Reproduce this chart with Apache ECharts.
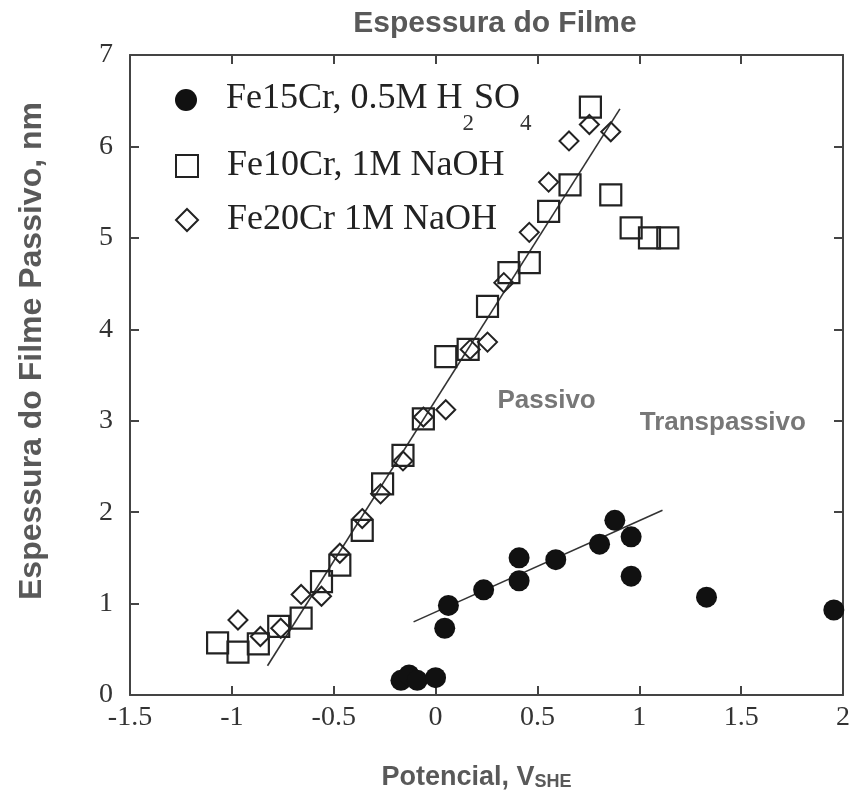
<!DOCTYPE html>
<html>
<head>
<meta charset="utf-8">
<script src="https://cdn.jsdelivr.net/npm/echarts@6/dist/echarts.min.js"></script>
<style>html,body{margin:0;padding:0;background:#fff}#c{width:855px;height:796px}</style>
</head>
<body>
<div id="c"></div>
<script>
// Fe15Cr, 0.5M H2SO4 (filled circles)
const h2so4X = [-0.17, -0.13, -0.09, 0.00, 0.045, 0.063, 0.236, 0.41, 0.41, 0.59, 0.805, 0.88, 0.96, 0.96, 1.33, 1.955];
const h2so4Y = [0.16, 0.22, 0.16, 0.19, 0.73, 0.98, 1.15, 1.25, 1.50, 1.48, 1.65, 1.91, 1.73, 1.30, 1.07, 0.93];
// Fe10Cr, 1M NaOH (open squares)
const fe10X = [-1.07, -0.97, -0.87, -0.77, -0.66, -0.56, -0.47, -0.36, -0.26, -0.16, -0.06, 0.05, 0.16, 0.255, 0.36, 0.46, 0.555, 0.66, 0.76, 0.86, 0.96, 1.05, 1.14];
const fe10Y = [0.57, 0.47, 0.56, 0.75, 0.84, 1.24, 1.42, 1.80, 2.31, 2.62, 3.02, 3.70, 3.78, 4.25, 4.62, 4.73, 5.29, 5.58, 6.43, 5.47, 5.11, 5.00, 5.00];
// Fe20Cr 1M NaOH (open diamonds)
const fe20X = [-0.97, -0.86, -0.76, -0.66, -0.56, -0.47, -0.36, -0.27, -0.16, -0.06, 0.05, 0.17, 0.255, 0.335, 0.46, 0.555, 0.655, 0.755, 0.86];
const fe20Y = [0.82, 0.64, 0.73, 1.10, 1.08, 1.55, 1.93, 2.20, 2.56, 3.04, 3.12, 3.78, 3.86, 4.51, 5.06, 5.61, 6.06, 6.24, 6.16];
// fit lines (end points)
const fitNaOHX = [-0.825, 0.905];
const fitNaOHY = [0.32, 6.41];
const fitAcidX = [-0.108, 1.114];
const fitAcidY = [0.80, 2.02];
// annotations
const noteText = ['Passivo', 'Transpassivo'];
const noteX = [0.545, 1.41];
const noteY = [3.22, 2.98];
// axes
const xMin = -1.5, xMax = 2, xStep = 0.5;
const yMin = 0, yMax = 7, yStep = 1;
const seriesNames = ['Fe15Cr, 0.5M H2SO4', 'Fe10Cr, 1M NaOH', 'Fe20Cr 1M NaOH'];

const zip = (a, b) => a.map((v, i) => [v, b[i]]);
const serif = 'Liberation Serif';
const sans = 'Liberation Sans';
const ink = '#111';
const grey = '#595959';

const chart = echarts.init(document.getElementById('c'), null, {renderer: 'canvas'});

const legendBase = {
  orient: 'vertical',
  itemWidth: 22,
  itemHeight: 22,
  left: 170,
  textStyle: {fontFamily: serif, fontSize: 36, color: '#222', padding: [0, 0, 0, 24],
    rich: {
      t: {fontFamily: serif, fontSize: 36, color: '#222', verticalAlign: 'top', lineHeight: 38},
      s: {fontFamily: serif, fontSize: 23, color: '#333', verticalAlign: 'top', lineHeight: 38, padding: [31, 0, 0, 0]}
    }
  },
  formatter: function (name) {
    if (name === seriesNames[0]) return '{t|Fe15Cr, 0.5M H}{s|2}{t|SO}{s|4}';
    return name;
  }
};

const axisCommonX = {
  type: 'value', min: xMin, max: xMax, interval: xStep,
  axisLine: {show: true, onZero: false, lineStyle: {color: '#444', width: 2}},
  axisTick: {show: true, inside: true, length: 9, lineStyle: {color: '#444', width: 2}},
  splitLine: {show: false}
};
const axisCommonY = {
  type: 'value', min: yMin, max: yMax, interval: yStep,
  axisLine: {show: true, onZero: false, lineStyle: {color: '#444', width: 2}},
  axisTick: {show: true, inside: true, length: 9, lineStyle: {color: '#444', width: 2}},
  splitLine: {show: false}
};

chart.setOption({
  animation: false,
  backgroundColor: '#fff',
  title: {
    text: 'Espessura do Filme',
    left: 490, top: 4, textAlign: 'center',
    textStyle: {fontFamily: sans, fontWeight: 'bold', fontSize: 30, color: grey}
  },
  grid: {left: 130, right: 12, top: 55, bottom: 99},
  legend: [
    Object.assign({}, legendBase, {top: 76, data: [seriesNames[0]]}),
    Object.assign({}, legendBase, {top: 143, data: [seriesNames[1]]}),
    Object.assign({}, legendBase, {top: 197, data: [seriesNames[2]]})
  ],
  xAxis: [
    Object.assign({}, axisCommonX, {
      position: 'bottom',
      axisLabel: {fontFamily: serif, fontSize: 28, color: '#333', margin: 9},
      name: '{a|Potencial, V}{b|SHE}',
      nameLocation: 'middle', nameGap: 64,
      nameTextStyle: {
        padding: [0, 20, 0, 0],
        rich: {
          a: {fontFamily: sans, fontWeight: 'bold', fontSize: 27, color: grey, verticalAlign: 'bottom', lineHeight: 32},
          b: {fontFamily: sans, fontWeight: 'bold', fontSize: 18, color: grey, verticalAlign: 'bottom', lineHeight: 28}
        }
      }
    }),
    Object.assign({}, axisCommonX, {position: 'top', axisLabel: {show: false}})
  ],
  yAxis: [
    Object.assign({}, axisCommonY, {
      position: 'left',
      axisLabel: {fontFamily: serif, fontSize: 28, color: '#333', margin: 17},
      name: 'Espessura do Filme Passivo, nm',
      nameLocation: 'middle', nameGap: 82, nameRotate: 90,
      nameTextStyle: {fontFamily: sans, fontWeight: 'bold', fontSize: 32, color: grey, padding: [0, 0, 0, 48]}
    }),
    Object.assign({}, axisCommonY, {position: 'right', axisLabel: {show: false}})
  ],
  series: [
    {
      name: seriesNames[0], type: 'scatter', symbol: 'circle', symbolSize: 21,
      itemStyle: {color: ink, opacity: 1},
      data: zip(h2so4X, h2so4Y), z: 3
    },
    {
      name: seriesNames[1], type: 'scatter', symbol: 'rect', symbolSize: 21,
      itemStyle: {color: 'rgba(0,0,0,0)', borderColor: '#222', borderWidth: 2.2, opacity: 1},
      data: zip(fe10X, fe10Y), z: 3
    },
    {
      name: seriesNames[2], type: 'scatter', symbol: 'diamond', symbolSize: [19, 19],
      itemStyle: {color: 'rgba(0,0,0,0)', borderColor: '#222', borderWidth: 2, opacity: 1},
      data: zip(fe20X, fe20Y), z: 3
    },
    {
      name: 'fitNaOH', type: 'line', showSymbol: false, symbol: 'none',
      lineStyle: {color: '#333', width: 1.6}, data: zip(fitNaOHX, fitNaOHY), z: 2, silent: true
    },
    {
      name: 'fitAcid', type: 'line', showSymbol: false, symbol: 'none',
      lineStyle: {color: '#333', width: 1.6}, data: zip(fitAcidX, fitAcidY), z: 2, silent: true
    },
    {
      name: 'notes', type: 'scatter', symbolSize: 0, silent: true,
      data: noteX.map((x, i) => ({value: [x, noteY[i]], name: noteText[i]})),
      label: {show: true, position: 'inside', formatter: p => p.name,
        fontFamily: sans, fontWeight: 'bold', fontSize: 26, color: '#555'}
    }
  ]
});
</script>
</body>
</html>
